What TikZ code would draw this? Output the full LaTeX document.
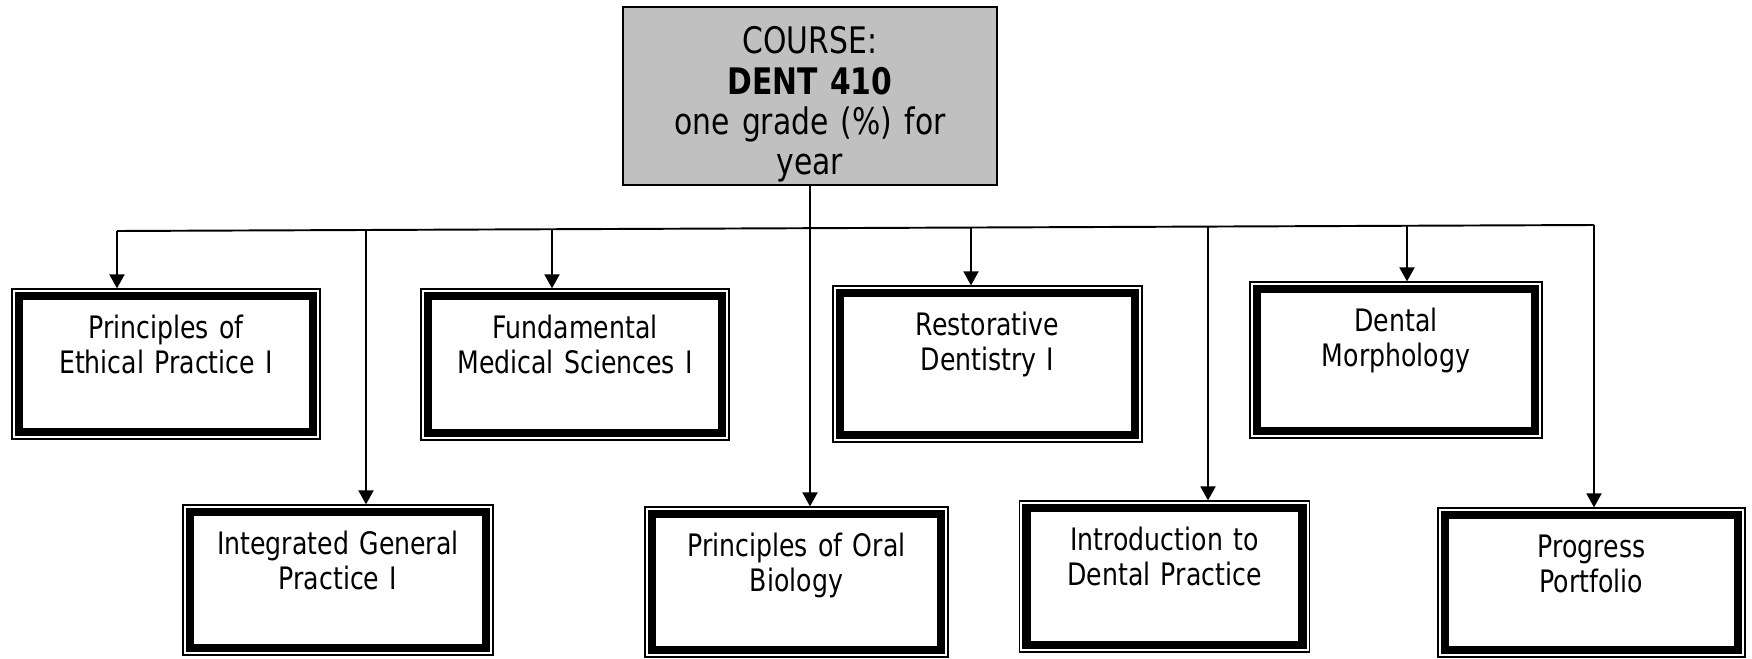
\documentclass[tikz,border=0pt]{standalone}
\usepackage{fontspec}
\setmainfont[FakeStretch=0.815]{DejaVu Sans}
\usetikzlibrary{arrows.meta}
\definecolor{coursegray}{RGB}{192,192,192}

\tikzset{
  unit/.style={draw,line width=0.35pt,inner sep=0pt,text width=2.9cm,align=center,
    font=\fontsize{8.8}{10}\selectfont,text height=0.49cm,
    path picture={\draw[line width=2.4pt]
      ([shift={(0.068,0.068)}]path picture bounding box.south west) rectangle
      ([shift={(-0.068,-0.068)}]path picture bounding box.north east);}},
  feed/.style={-{Triangle[width=1.5mm,length=1.4mm]},line width=0.55pt},
}

\begin{document}
\begin{tikzpicture}
  \useasboundingbox (0,0) rectangle (17.52,-6.58);
  \node[draw,fill=coursegray,line width=0.4pt,inner sep=0pt,minimum width=3.74cm,minimum height=1.78cm,
    text width=3.6cm,align=center,text height=0.47cm,text depth=1.31cm,
    font=\fontsize{10.4}{11.4}\selectfont] (course) at (8.10,-0.96)
    {COURSE:\\\textbf{DENT 410}\\one grade (\%) for\\year};
  % first row
  \node[unit,minimum width=3.08cm,minimum height=1.50cm,text depth=1.01cm] (pe) at (1.66,-3.64) {Principles of\\Ethical Practice I};
  \node[unit,minimum width=3.08cm,minimum height=1.51cm,text depth=1.02cm] (fm) at (5.75,-3.645) {Fundamental\\Medical Sciences I};
  \node[unit,minimum width=3.09cm,minimum height=1.56cm,text depth=1.07cm] (rd) at (9.875,-3.64) {Restorative\\Dentistry I};
  \node[unit,minimum width=2.92cm,minimum height=1.56cm,text depth=1.07cm] (dm) at (13.96,-3.60) {Dental\\Morphology};
  % second row
  \node[unit,minimum width=3.10cm,minimum height=1.50cm,text depth=1.01cm] (ig) at (3.38,-5.80) {Integrated General\\Practice I};
  \node[unit,minimum width=3.03cm,minimum height=1.50cm,text depth=1.01cm] (ob) at (7.965,-5.82) {Principles of Oral\\Biology};
  \node[unit,minimum width=2.77cm,minimum height=1.51cm,text depth=1.02cm] (id) at (11.645,-5.765) {Introduction to\\Dental Practice};
  \node[unit,minimum width=3.07cm,minimum height=1.49cm,text depth=1.00cm] (pp) at (15.915,-5.825) {Progress\\Portfolio};
  % bus
  \coordinate (b1) at (1.17,-2.31);
  \coordinate (b2) at (3.66,-2.300);
  \coordinate (b3) at (5.52,-2.292);
  \coordinate (bc) at (8.10,-2.282);
  \coordinate (b5) at (9.71,-2.275);
  \coordinate (b6) at (12.08,-2.266);
  \coordinate (b7) at (14.07,-2.258);
  \coordinate (b8) at (15.94,-2.25);
  \draw[line width=0.3pt] (course) -- (bc);
  \draw[line width=0.55pt] (b1) -- (b8);
  \foreach \b/\n in {b1/pe,b2/ig,b3/fm,bc/ob,b5/rd,b6/id,b7/dm,b8/pp}
    \draw[feed] (\b) -- (\b |- \n.north);
\end{tikzpicture}
\end{document}
